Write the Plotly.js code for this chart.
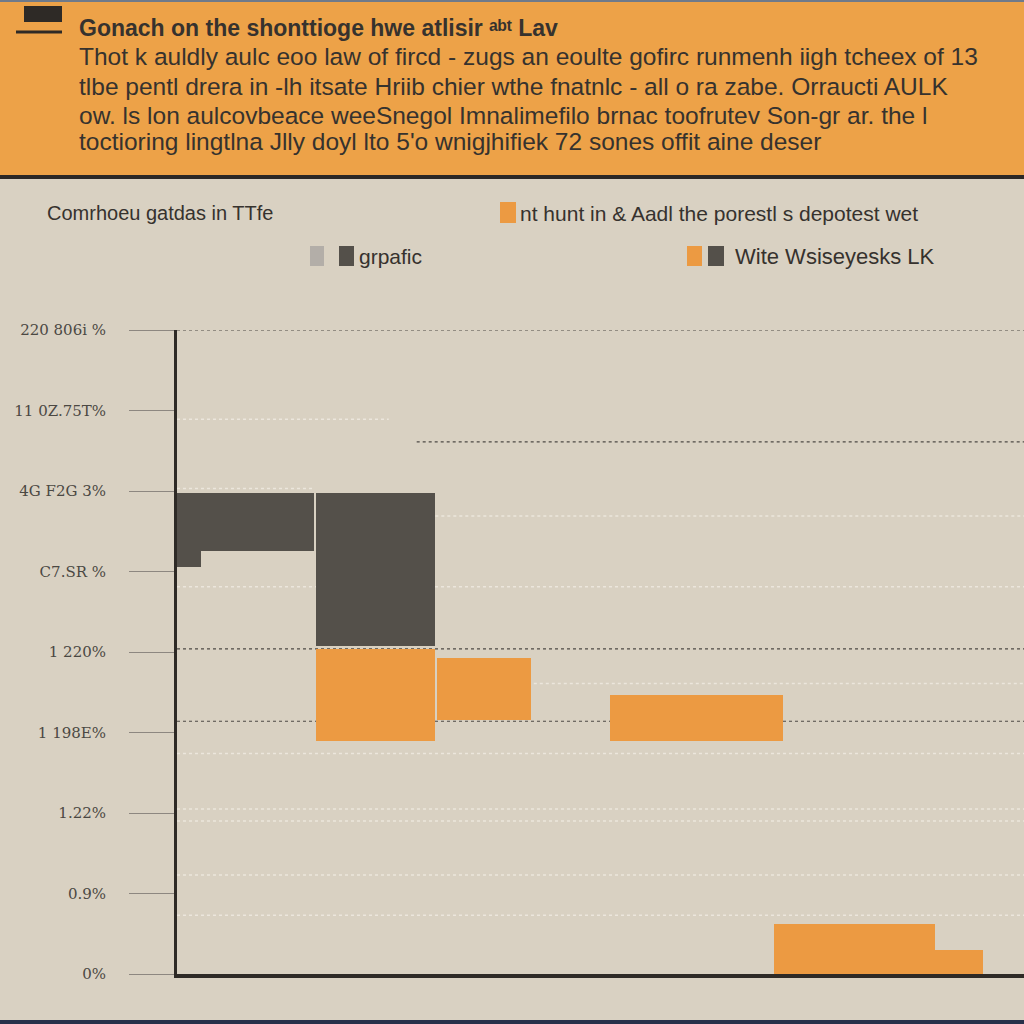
<!DOCTYPE html>
<html>
<head>
<meta charset="utf-8">
<script src="https://cdn.plot.ly/plotly-3.0.1.min.js"></script>
<style>
  html, body { margin: 0; padding: 0; background: #d9d1c2; }
  #chart { width: 1024px; height: 1024px; }
</style>
</head>
<body>
<div id="chart"></div>
<script>
// floating blocks, x in percent of the plot width, y in axis levels
var darkX0 = [0, 0, 16.4];
var darkX1 = [16.2, 2.8, 30.5];
var darkLow = [5.25, 5.05, 4.08];
var darkHigh = [5.97, 5.25, 5.97];

var orangeX0 = [16.4, 30.7, 51.1, 70.5, 89.5];
var orangeX1 = [30.5, 41.8, 71.5, 89.5, 95.2];
var orangeLow = [2.89, 3.15, 2.89, 0, 0];
var orangeHigh = [4.04, 3.92, 3.46, 0.62, 0.30];

var yTickVals = [0, 1, 2, 3, 4, 5, 6, 7, 8];
var yTickText = ['0%', '0.9%', '1.22%', '1 198E%', '1 220%', 'C7.SR %', '4G F2G 3%', '11 0Z.75T%', '220 806i %'];

var titleText = 'Gonach on the shonttioge hwe atlisir ᵃᵇᵗ Lav';
var bodyLines = [
    'Thot k auldly aulc eoo law of fircd - zugs an eoulte gofirc runmenh iigh tcheex of 13',
    'tlbe pentl drera in -lh itsate Hriib chier wthe fnatnlc - all o ra zabe. Orraucti AULK',
    'ow. ls lon aulcovbeace weeSnegol Imnalimefilo brnac toofrutev Son-gr ar. the l',
    'toctioring lingtlna Jlly doyl lto 5\'o wnigjhifiek 72 sones offit aine deser'
];
var subLabel = 'Comrhoeu gatdas in TTfe';
var legendA = 'nt hunt in & Aadl the porestl s depotest wet';
var legendB = 'grpafic';
var legendC = 'Wite Wsiseyesks LK';

var DARK = '#54504a';
var ORANGE = '#ec9a42';
var INK = '#36322e';
var SANS = '"Liberation Sans", Arial, sans-serif';

// pixel -> paper helpers for decoration outside the plot area
function px2x(px) { return (px - 177) / 847; }
function py2y(py) { return (974 - py) / 644; }

function blocks(x0, x1, lo, hi, color, name) {
    var xs = [], ws = [], ys = [];
    for (var i = 0; i < x0.length; i++) {
        xs.push((x0[i] + x1[i]) / 2);
        ws.push(x1[i] - x0[i]);
        ys.push(hi[i] - lo[i]);
    }
    return {
        type: 'bar', name: name, x: xs, width: ws, y: ys, base: lo,
        marker: { color: color, line: { width: 0 } },
        hoverinfo: 'skip', showlegend: false
    };
}

var traces = [
    blocks(darkX0, darkX1, darkLow, darkHigh, DARK, 'dark'),
    blocks(orangeX0, orangeX1, orangeLow, orangeHigh, ORANGE, 'orange')
];

// grid lines: [level, from, to, dark?]
var grid = [
    [8.0, 0, 100, true], [6.61, 28.3, 100, true], [4.04, 0, 100, true], [3.14, 0, 100, true],
    [6.89, 0, 25, false], [6.03, 0, 16, false], [5.69, 30.5, 100, false], [4.81, 0, 100, false],
    [3.61, 40, 100, false], [2.74, 0, 100, false], [2.05, 0, 100, false], [1.9, 0, 100, false],
    [1.23, 0, 100, false], [0.73, 0, 100, false]
];

var shapes = [
    { type: 'rect', xref: 'paper', yref: 'paper', x0: px2x(0), x1: px2x(1024), y0: py2y(175), y1: py2y(0),
      fillcolor: '#eda248', line: { width: 0 }, layer: 'below' },
    { type: 'line', xref: 'paper', yref: 'paper', x0: px2x(0), x1: px2x(1024), y0: py2y(177), y1: py2y(177),
      line: { color: '#2b2826', width: 4 } },
    { type: 'line', xref: 'paper', yref: 'paper', x0: px2x(0), x1: px2x(1024), y0: py2y(1), y1: py2y(1),
      line: { color: '#6f7a8a', width: 2 } },
    { type: 'line', xref: 'paper', yref: 'paper', x0: px2x(0), x1: px2x(1024), y0: py2y(1022), y1: py2y(1022),
      line: { color: '#27304a', width: 4 } },
    // logo
    { type: 'rect', xref: 'paper', yref: 'paper', x0: px2x(24), x1: px2x(62), y0: py2y(22), y1: py2y(6),
      fillcolor: '#2e2a26', line: { width: 0 } },
    { type: 'line', xref: 'paper', yref: 'paper', x0: px2x(16), x1: px2x(62), y0: py2y(32), y1: py2y(32),
      line: { color: '#2e2a26', width: 3 } },
    // legend swatches
    { type: 'rect', xref: 'paper', yref: 'paper', x0: px2x(500), x1: px2x(516), y0: py2y(223), y1: py2y(202),
      fillcolor: ORANGE, line: { width: 0 } },
    { type: 'rect', xref: 'paper', yref: 'paper', x0: px2x(310), x1: px2x(324), y0: py2y(266), y1: py2y(246),
      fillcolor: '#b3aea8', line: { width: 0 } },
    { type: 'rect', xref: 'paper', yref: 'paper', x0: px2x(339), x1: px2x(354), y0: py2y(266), y1: py2y(246),
      fillcolor: DARK, line: { width: 0 } },
    { type: 'rect', xref: 'paper', yref: 'paper', x0: px2x(687), x1: px2x(702), y0: py2y(266), y1: py2y(246),
      fillcolor: ORANGE, line: { width: 0 } },
    { type: 'rect', xref: 'paper', yref: 'paper', x0: px2x(708), x1: px2x(724), y0: py2y(266), y1: py2y(246),
      fillcolor: DARK, line: { width: 0 } }
];

grid.forEach(function (g) {
    shapes.push({
        type: 'line', xref: 'x', yref: 'y', x0: g[1], x1: g[2], y0: g[0], y1: g[0], layer: 'below',
        line: { color: g[3] ? '#4e4a45' : '#ece6dc', width: g[3] ? 1.2 : 1.5, dash: 'dot' }
    });
});

var annotations = [
    { text: '<b>' + titleText + '</b>', x: px2x(77), y: py2y(28), xanchor: 'left',
      font: { family: SANS, size: 23, color: INK } },
    { text: subLabel, x: px2x(45), y: py2y(213), xanchor: 'left',
      font: { family: SANS, size: 20, color: INK } },
    { text: legendA, x: px2x(518), y: py2y(213), xanchor: 'left',
      font: { family: SANS, size: 21, color: INK } },
    { text: legendB, x: px2x(357), y: py2y(256), xanchor: 'left',
      font: { family: SANS, size: 21, color: INK } },
    { text: legendC, x: px2x(733), y: py2y(256), xanchor: 'left',
      font: { family: SANS, size: 22, color: INK } }
];
var lineY = [57, 86, 115, 141];
bodyLines.forEach(function (t, i) {
    annotations.push({
        text: t, x: px2x(77), y: py2y(lineY[i]), xanchor: 'left',
        font: { family: SANS, size: 24.5, color: INK }
    });
});
annotations.forEach(function (a) {
    a.xref = 'paper'; a.yref = 'paper'; a.showarrow = false;
    if (!a.yanchor) a.yanchor = 'middle';
});

var layout = {
    width: 1024, height: 1024,
    margin: { l: 177, r: 0, t: 330, b: 50 },
    paper_bgcolor: '#d9d1c2',
    plot_bgcolor: '#d9d1c2',
    barmode: 'overlay',
    bargap: 0,
    showlegend: false,
    xaxis: {
        range: [0, 100], showline: true, linewidth: 4, linecolor: '#2e2a26',
        showgrid: false, zeroline: false, showticklabels: false, ticks: ''
    },
    yaxis: {
        range: [0, 8], showline: true, linewidth: 3, linecolor: '#2e2a26',
        showgrid: false, zeroline: false,
        tickvals: yTickVals, ticktext: yTickText,
        ticks: 'outside', ticklen: 45, tickwidth: 1, tickcolor: '#8d8780',
        ticklabelstandoff: 20,
        tickfont: { family: '"DejaVu Serif", serif', size: 15, color: '#4b4843' }
    },
    shapes: shapes,
    annotations: annotations
};

Plotly.newPlot('chart', traces, layout, { staticPlot: true });
</script>
</body>
</html>
